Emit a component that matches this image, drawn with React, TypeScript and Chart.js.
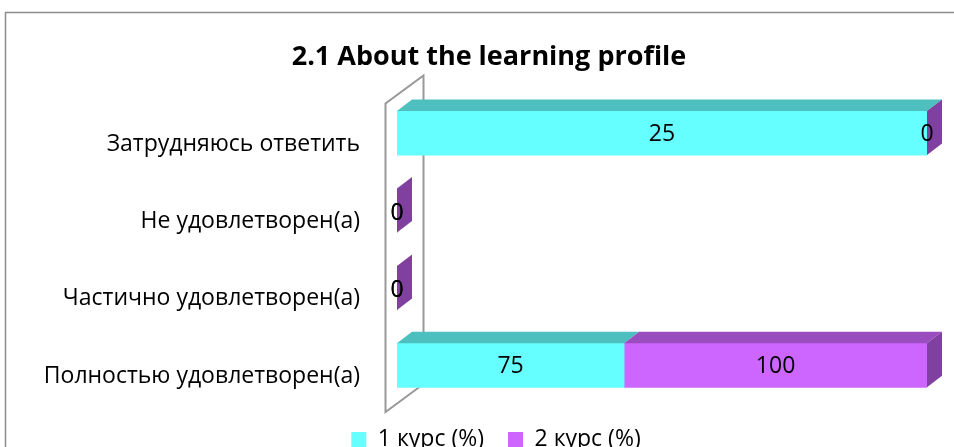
import React, { useEffect, useRef } from "react";
import { Chart, registerables } from "chart.js";

Chart.register(...registerables);

const categories = [
  "Затрудняюсь ответить",
  "Не удовлетворен(а)",
  "Частично удовлетворен(а)",
  "Полностью удовлетворен(а)",
];
const course1 = [25, 0, 0, 75];
const course2 = [0, 0, 0, 100];
const seriesNames = ["1 курс (%)", "2 курс (%)"];
const titleText = "2.1 About the learning profile";

const FONT = "'Open Sans', 'Noto Sans', sans-serif";
const frontColors = ["#66FFFF", "#CC66FF"];
const topColors = ["#4DBFBF", "#9A4DBF"];
const sideColors = ["#3FA6A6", "#8040A0"];

const share = (a: number[], b: number[]) =>
  a.map((v, i) => {
    const s = a[i] + b[i];
    return s === 0 ? 0 : (v / s) * 100;
  });

const DX = 15;
const DY = -11.5;
const PAD_LEFT = 30;

const frame3d = {
  id: "frame3d",
  afterLayout(chart: any) {
    if (chart.legend) {
      chart.legend.left += 17.5;
      chart.legend.right += 17.5;
    }
    if (chart.titleBlock) {
      chart.titleBlock.left += 10.5;
      chart.titleBlock.right += 10.5;
    }
  },
  beforeDraw(chart: any) {
    const ctx = chart.ctx;
    ctx.save();
    ctx.fillStyle = "#ffffff";
    ctx.fillRect(0, 0, chart.width, chart.height);
    ctx.strokeStyle = "#8c8c8c";
    ctx.lineWidth = 1.5;
    ctx.strokeRect(5.5, 12.5, 3000, 3000);
    ctx.restore();
  },
  beforeDatasetsDraw(chart: any) {
    const ctx = chart.ctx;
    const area = chart.chartArea;
    const x1 = area.left - 11.5;
    const yTop = area.top + 9;
    const yBot = area.bottom + 8;
    ctx.save();
    ctx.strokeStyle = "#999999";
    ctx.lineWidth = 2;
    ctx.beginPath();
    ctx.moveTo(x1 + 38, yBot - 28);
    ctx.lineTo(x1, yBot);
    ctx.lineTo(x1, yTop);
    ctx.lineTo(x1 + 38, yTop - 28);
    ctx.lineTo(x1 + 38, yBot - 28);
    ctx.stroke();
    ctx.restore();
  },
  afterDatasetsDraw(chart: any) {
    const ctx = chart.ctx;
    const metas = chart.getSortedVisibleDatasetMetas();
    ctx.save();
    const n = categories.length;
    for (let i = 0; i < n; i++) {
      metas.forEach((meta: any, d: number) => {
        const el = meta.data[i];
        const p = el.getProps(["x", "y", "base", "height"], true);
        const left = Math.min(p.x, p.base);
        const right = Math.max(p.x, p.base);
        const top = p.y - p.height / 2;
        const bottom = p.y + p.height / 2;
        if (right - left > 0.5) {
          ctx.fillStyle = topColors[d];
          ctx.beginPath();
          ctx.moveTo(left, top);
          ctx.lineTo(left + DX, top + DY);
          ctx.lineTo(right + DX, top + DY);
          ctx.lineTo(right, top);
          ctx.closePath();
          ctx.fill();
        }
        if (d === metas.length - 1) {
          ctx.fillStyle = sideColors[d];
          ctx.beginPath();
          ctx.moveTo(right, top);
          ctx.lineTo(right + DX, top + DY);
          ctx.lineTo(right + DX, bottom + DY);
          ctx.lineTo(right, bottom);
          ctx.closePath();
          ctx.fill();
        }
      });
    }
    // value labels
    ctx.fillStyle = "#000000";
    ctx.font = `23px ${FONT}`;
    ctx.textAlign = "center";
    ctx.textBaseline = "middle";
    const raw = [course1, course2];
    for (let i = 0; i < n; i++) {
      metas.forEach((meta: any, d: number) => {
        const el = meta.data[i];
        const p = el.getProps(["x", "y", "base"], true);
        const zero = raw[0][i] + raw[1][i] === 0;
        ctx.fillText(String(raw[d][i]), (p.x + p.base) / 2, p.y + (zero ? 2.5 : 1));
      });
    }
    ctx.restore();
  },
};

export default function App() {
  const ref = useRef<HTMLCanvasElement | null>(null);
  useEffect(() => {
    document.body.style.margin = "0";
    document.body.style.overflow = "hidden";
    if (!ref.current) return;
    const chart = new Chart(ref.current, {
      type: "bar",
      data: {
        labels: categories,
        datasets: [
          {
            label: seriesNames[0],
            data: share(course1, course2),
            backgroundColor: frontColors[0],
            barThickness: 44,
          },
          {
            label: seriesNames[1],
            data: share(course2, course1),
            backgroundColor: frontColors[1],
            barThickness: 44,
          },
        ],
      },
      options: {
        indexAxis: "y",
        animation: false,
        responsive: false,
        maintainAspectRatio: false,
        layout: { padding: { left: PAD_LEFT, right: 27, top: 10, bottom: 9 } },
        scales: {
          x: { stacked: true, min: 0, max: 100, display: false },
          y: {
            stacked: true,
            grid: { display: false, drawTicks: false },
            border: { display: false },
            ticks: {
              color: "#000000",
              padding: 37,
              labelOffset: 11,
              font: { family: FONT, size: 23 },
            },
            afterFit: (scale: any) => {
              scale.width = 397 - PAD_LEFT;
            },
          },
        },
        plugins: {
          tooltip: { enabled: false },
          title: {
            display: true,
            text: titleText,
            color: "#000000",
            font: { family: FONT, size: 27, weight: "bold" },
            padding: { top: 31, bottom: 21 },
          },
          legend: {
            display: true,
            position: "bottom",
            labels: {
              color: "#000000",
              boxWidth: 15,
              boxHeight: 15,
              padding: 24,
              font: { family: FONT, size: 23 },
            },
          },
        },
      },
      plugins: [frame3d],
    });
    return () => chart.destroy();
  }, []);
  return (
    <div style={{ position: "fixed", left: 0, top: 0, width: 954, height: 470 }}>
      <canvas ref={ref} width={954} height={470} style={{ display: "block" }} />
    </div>
  );
}
